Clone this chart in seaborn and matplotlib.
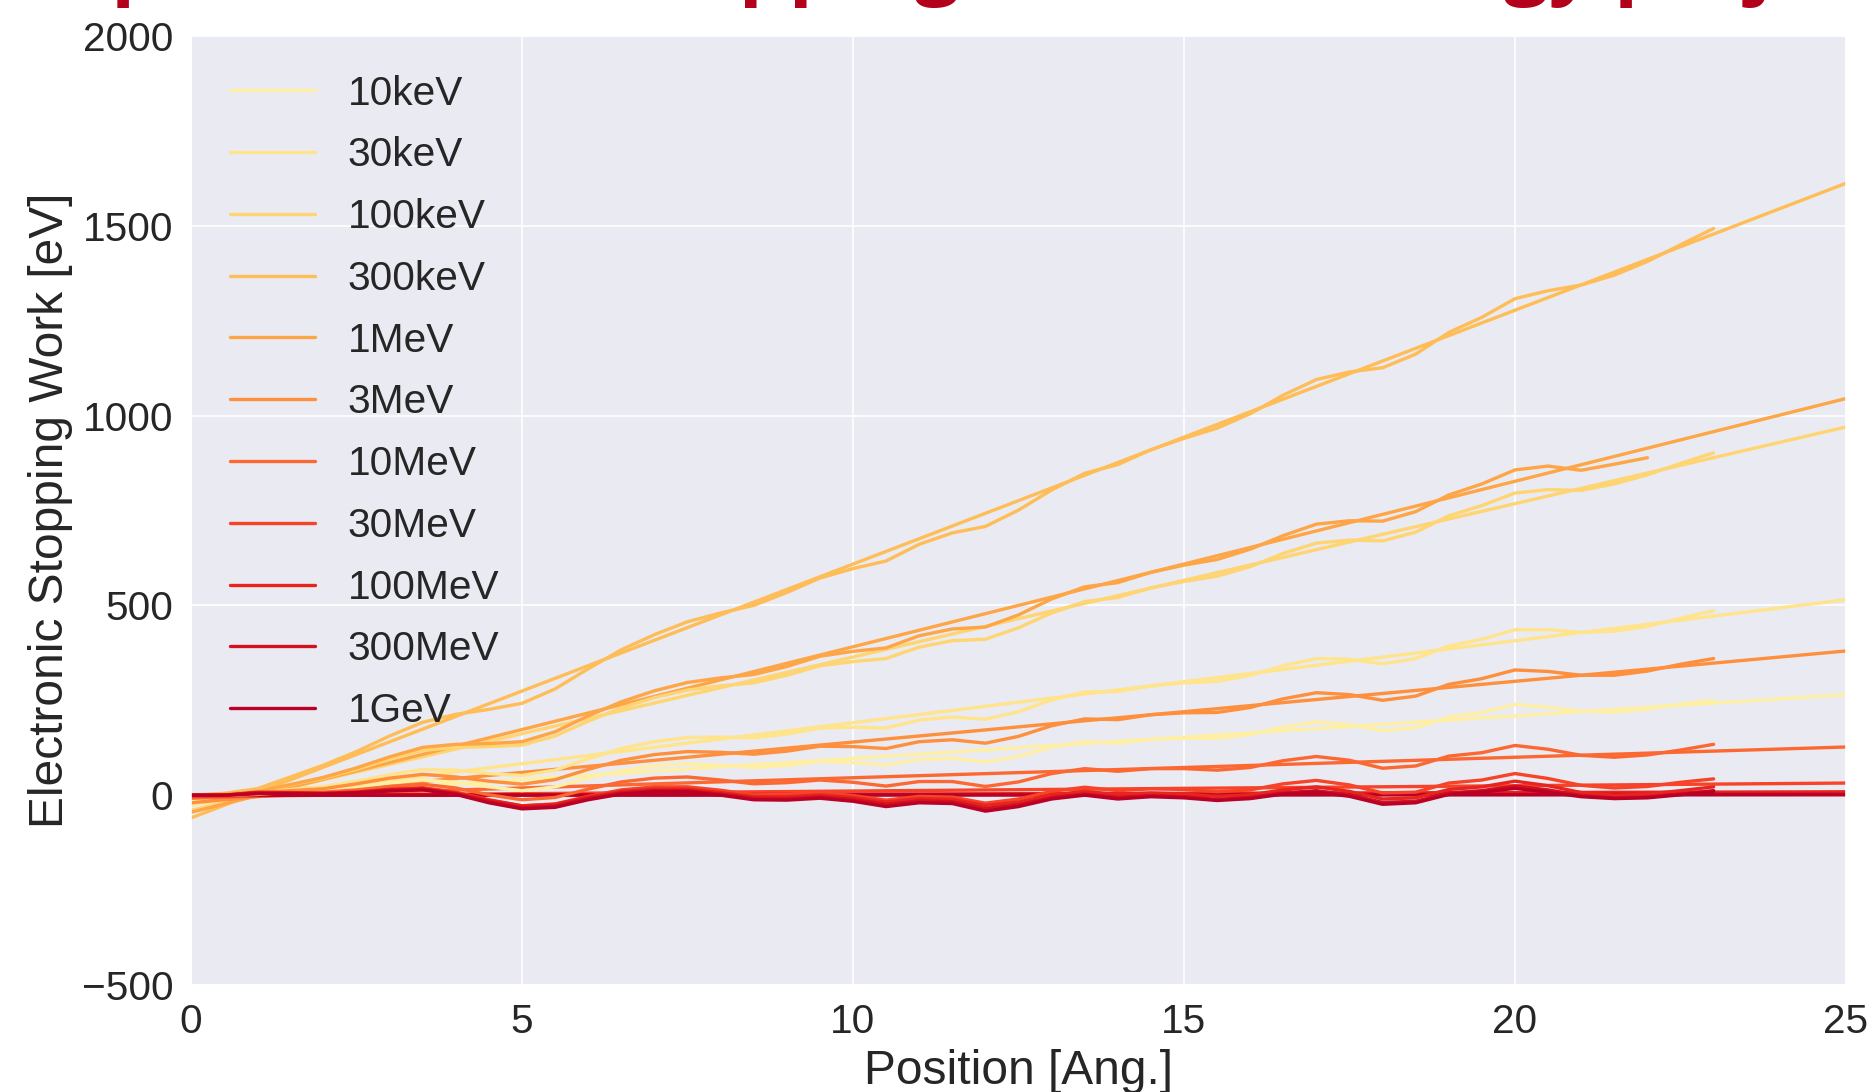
import numpy as np
import pandas as pd
import matplotlib
matplotlib.use("Agg")
import matplotlib.pyplot as plt
import seaborn as sns

# ---------------- data ----------------
energies = ["10keV", "30keV", "100keV", "300keV", "1MeV", "3MeV",
            "10MeV", "30MeV", "100MeV", "300MeV", "1GeV"]

position = np.arange(0.0, 23.01, 0.5)  # sample grid [Ang.]

work_10keV = [0, 0, 2, 8, 11, 20, 32, 40, 34, 22, 12, 22, 45, 65, 77, 83, 79, 73, 78, 89, 86, 79, 94, 97, 88,
              102, 127, 141, 137, 147, 150, 150, 160, 180, 193, 186, 170, 178, 206, 218, 239, 232, 221, 219, 227, 240, 250]
work_30keV = [0, 1, 5, 15, 23, 37, 54, 68, 66, 57, 52, 66, 96, 123, 141, 152, 153, 151, 161, 177, 179, 177, 198, 206, 200,
              220, 251, 272, 273, 288, 296, 300, 316, 341, 360, 358, 346, 360, 393, 411, 436, 436, 429, 432, 445, 466, 486]
work_100keV = [0, 2, 8, 27, 45, 68, 95, 118, 126, 128, 132, 156, 195, 230, 257, 277, 288, 296, 316, 341, 352, 360, 390, 407, 411,
               441, 480, 510, 521, 546, 563, 577, 602, 637, 664, 672, 670, 693, 736, 763, 796, 805, 803, 820, 844, 874, 902]
work_300keV = [0, 5, 17, 48, 79, 115, 156, 192, 213, 226, 242, 280, 333, 383, 423, 457, 480, 500, 534, 572, 597, 617, 661, 691, 708,
               751, 804, 848, 871, 910, 940, 967, 1005, 1054, 1095, 1115, 1126, 1162, 1219, 1259, 1308, 1329, 1344, 1370, 1406, 1450, 1493]
work_1MeV = [0, 3, 9, 28, 47, 72, 101, 126, 134, 136, 141, 167, 209, 246, 275, 297, 309, 318, 339, 366, 379, 388, 420, 438, 443,
             475, 517, 549, 560, 587, 606, 621, 648, 684, 714, 723, 722, 747, 791, 820, 857, 867, 856, 872, 889]
work_3MeV = [0, 1, 6, 12, 17, 30, 45, 55, 48, 37, 29, 41, 68, 92, 107, 115, 113, 108, 116, 129, 128, 123, 141, 146, 137,
             155, 183, 201, 199, 212, 217, 218, 231, 254, 270, 265, 250, 261, 292, 307, 330, 326, 316, 316, 327, 345, 360]
work_10MeV = [0, 0, 4, 6, 8, 14, 23, 29, 19, 1, -12, -6, 16, 35, 45, 48, 40, 30, 33, 40, 34, 24, 36, 36, 23,
              35, 57, 70, 63, 70, 70, 66, 73, 91, 102, 92, 71, 77, 103, 112, 131, 121, 105, 100, 106, 119, 134]
work_30MeV = [0, 0, 6, 6, 5, 9, 16, 20, 8, -12, -28, -23, -3, 14, 22, 22, 13, 1, 2, 7, -1, -13, -3, -5, -21,
              -10, 10, 21, 12, 17, 15, 9, 14, 30, 39, 27, 6, 8, 32, 40, 57, 44, 26, 19, 23, 34, 43]
work_100MeV = [0, 0, 8, 7, 5, 8, 15, 18, 6, -13, -28, -24, -5, 10, 16, 16, 7, -4, -4, 1, -6, -18, -9, -11, -27,
               -18, 1, 10, 2, 6, 3, -3, 1, 14, 22, 10, -10, -7, 15, 22, 37, 25, 7, 0, 3, 12, 22]
work_300MeV = [0, 0, 6, 5, 4, 7, 13, 16, 4, -16, -32, -28, -8, 6, 12, 12, 3, -8, -9, -4, -11, -24, -15, -17, -35,
               -25, -6, 3, -6, -1, -4, -11, -6, 6, 12, 1, -19, -16, 6, 12, 24, 14, -1, -7, -5, 3, 12]
work_1GeV = [0, 0, 4, 4, 3, 6, 11, 14, 2, -20, -36, -32, -12, 3, 9, 9, 0, -12, -13, -8, -16, -30, -20, -22, -42,
             -30, -10, 0, -10, -4, -7, -14, -9, 3, 8, -3, -24, -20, 2, 8, 18, 8, -4, -9, -7, 1, 10]

work_series = [work_10keV, work_30keV, work_100keV, work_300keV, work_1MeV, work_3MeV,
               work_10MeV, work_30MeV, work_100MeV, work_300MeV, work_1GeV]

# linear fits: value at x = 0 and at x = 25
fit_x = [0.0, 25.0]
fit_start = [-15, -25, -40, -60, -45, -20, -8, -3, -1, 0, 0]
fit_end = [265, 515, 970, 1612, 1045, 380, 127, 32, 9, 3, 1]

title_text = "Dependence of stopping work on energy projectile"

# ---------------- build tables ----------------
rows = []
for e, w in zip(energies, work_series):
    for x, y in zip(position[:len(w)], w):
        rows.append({"pos": x, "work": y, "energy": e})
df_work = pd.DataFrame(rows)

frows = []
for e, a, b in zip(energies, fit_start, fit_end):
    frows.append({"pos": fit_x[0], "work": a, "energy": e})
    frows.append({"pos": fit_x[1], "work": b, "energy": e})
df_fit = pd.DataFrame(frows)

# ---------------- style ----------------
sns.set_style("darkgrid")
plt.rcParams["font.family"] = ["Liberation Sans", "DejaVu Sans"]
plt.rcParams["text.color"] = "#262626"
plt.rcParams["axes.labelcolor"] = "#262626"
plt.rcParams["xtick.color"] = "#262626"
plt.rcParams["ytick.color"] = "#262626"

cmap = sns.color_palette("YlOrRd", as_cmap=True)
palette = [cmap(v) for v in np.linspace(0.11, 0.88, len(energies))]

fig = plt.figure(figsize=(12.48, 7.28), dpi=150)
ax = fig.add_axes([191 / 1872, 1 - 985 / 1092, (1846 - 191) / 1872, (985 - 36) / 1092])

sns.lineplot(data=df_fit, x="pos", y="work", hue="energy", hue_order=energies,
             palette=palette, estimator=None, sort=False, lw=1.6, legend=False, ax=ax)
sns.lineplot(data=df_work, x="pos", y="work", hue="energy", hue_order=energies,
             palette=palette, estimator=None, sort=False, lw=1.6, ax=ax)

ax.set_xlim(0, 25)
ax.set_ylim(-500, 2000)
ax.set_xticks([0, 5, 10, 15, 20, 25])
ax.set_yticks([-500, 0, 500, 1000, 1500, 2000])
ax.tick_params(axis="both", labelsize=19.5, pad=5)
ax.set_xlabel("Position [Ang.]", fontsize=23, labelpad=4)
ax.set_ylabel("Electronic Stopping Work [eV]", fontsize=23, labelpad=4)

handles, labels = ax.get_legend_handles_labels()
ax.legend(handles, labels, loc="upper left", frameon=False, fontsize=19.5,
          handlelength=2.1, handletextpad=0.8, labelspacing=0.585, borderaxespad=0.55)

# clipped slide title at the very top
fig.text(0.003, 1 + 11 / 1092, title_text, color="#b3001b", fontsize=38,
         fontweight="bold", family=["Open Sans", "DejaVu Sans"], va="baseline", ha="left")

fig.savefig("out.png", dpi=150)
